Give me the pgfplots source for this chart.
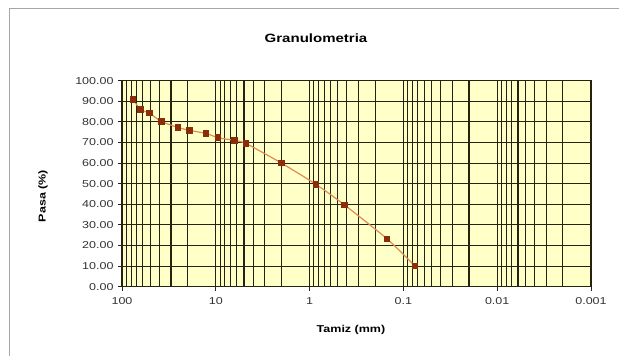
\documentclass[border=0pt]{standalone}
\usepackage{fontspec}
\setmainfont[FakeStretch=1.25]{Liberation Sans}
\usepackage{pgfplots}
\pgfplotsset{compat=1.18}
\definecolor{bgy}{RGB}{255,255,200}
\definecolor{gridc}{RGB}{35,35,15}
\definecolor{linec}{RGB}{222,140,80}
\definecolor{markc}{RGB}{140,45,10}
\definecolor{tickc}{RGB}{50,50,50}
\begin{document}
\begin{tikzpicture}
\path[use as bounding box] (0bp,0bp) rectangle (619bp,356bp);
\draw[gray!70, line width=1bp] (9bp,0bp) -- (9bp,347bp) -- (619bp,347bp);
\node[font=\bfseries\fontsize{12bp}{14bp}\selectfont] at (316bp,318bp) {Granulometria};
\node[font=\bfseries\fontsize{10bp}{12bp}\selectfont] at (351bp,26bp) {Tamiz (mm)};
\node[font=\bfseries\fontsize{10bp}{12bp}\selectfont, rotate=90] at (43bp,160bp) {Pasa (\%)};
\begin{axis}[
  at={(122bp,69.3bp)}, anchor=south west,
  width=469bp, height=206bp, scale only axis,
  xmode=log, x dir=reverse,
  xmin=0.001, xmax=100, ymin=0, ymax=100,
  ytick={0,10,...,100},
  xtick={100,10,1,0.1,0.01,0.001},
  xticklabels={100,10,1,0.1,0.01,0.001},
  minor xtick={0.002,0.003,0.004,0.005,0.006,0.007,0.008,0.009,
               0.02,0.03,0.04,0.05,0.06,0.07,0.08,0.09,
               0.2,0.3,0.4,0.5,0.6,0.7,0.8,0.9,
               2,3,4,5,6,7,8,9,
               20,30,40,50,60,70,80,90},
  grid=both,
  major grid style={gridc, line width=1.1bp},
  minor grid style={gridc, line width=1.1bp},
  axis background/.style={fill=bgy},
  axis line style={gridc, line width=1.1bp},
  tick pos=left, tick align=outside,
  major tick length=4bp, minor tick length=0bp,
  tick style={gridc, line width=0.8bp},
  yticklabel style={font=\fontsize{10bp}{12bp}\selectfont, color=tickc, xshift=-1bp,
    /pgf/number format/.cd, fixed, fixed zerofill, precision=2, assume math mode=true},
  xticklabel style={font=\fontsize{10bp}{12bp}\selectfont, color=tickc, yshift=-3bp},
]
\addplot[color=linec, line width=1.2bp, smooth, tension=0.4,
  mark=square*, mark size=2.6bp, mark options={fill=markc, draw=markc}]
  coordinates {
  (76.2,90.9) (63.5,86.0) (50.8,84.2) (38.1,80.2) (25.4,77.3)
  (19.05,75.9) (12.7,74.4) (9.525,72.4) (6.35,71.0) (4.76,69.5)
  (2.0,60.0) (0.85,49.6) (0.425,39.7) (0.15,23.3) (0.075,10.0)
  };
\end{axis}
\end{tikzpicture}
\end{document}
